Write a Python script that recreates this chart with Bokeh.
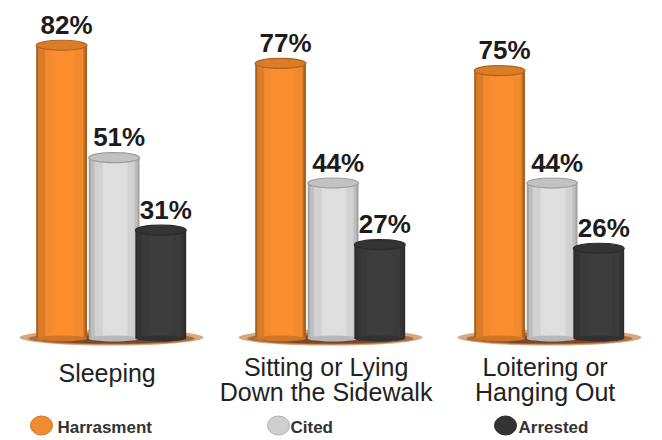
from bokeh.plotting import figure
from bokeh.models import Range1d
from bokeh.core.properties import value
from bokeh.embed import file_html
from bokeh.resources import INLINE

# ---- data ----
categories = ["Sleeping", "Sitting or Lying\nDown the Sidewalk", "Loitering or\nHanging Out"]
series_names = ["Harrasment", "Cited", "Arrested"]
harassment = [82, 77, 75]
cited = [51, 44, 44]
arrested = [31, 27, 26]

# ---- layout constants ----
W, H = 662, 440
PX_X = 219.0      # pixels per group unit
PX_Y = 3.625      # pixels per percent
X0 = 111          # pixel x of first group centre
Y0 = 342          # pixel y (from top) of baseline
FONT = "Liberation Sans"
SHIFT = 0.32      # baseline correction (fraction of font size)

p = figure(width=W, height=H, output_backend="svg", toolbar_location=None,
           x_range=Range1d(-X0 / PX_X, (W - X0) / PX_X),
           y_range=Range1d(-(H - Y0) / PX_Y, Y0 / PX_Y),
           x_axis_type=None, y_axis_type=None, min_border=0)
p.outline_line_color = None
p.background_fill_color = "white"
p.border_fill_color = "white"

def hex_to_rgb(h):
    h = h.lstrip("#")
    return tuple(int(h[i:i + 2], 16) for i in (0, 2, 4))

def shade(h, f):
    r, g, b = hex_to_rgb(h)
    c = lambda v: max(0, min(255, int(round(v * f))))
    return "#%02x%02x%02x" % (c(r), c(g), c(b))

def py(page_y):
    return (Y0 - page_y) / PX_Y

groups = list(range(len(categories)))
series_vals = [harassment, cited, arrested]
base_cols = ["#f38a2e", "#d8d8d8", "#3a3a3a"]
offsets = [-0.228, 0.012, 0.225]
bar_w = 0.232

# base shadows under each group
p.ellipse(x=groups, y=[py(337)] * 3, width=[0.84] * 3, height=16, height_units="screen",
          fill_color="#d29868", fill_alpha=0.85, line_color=None)
p.ellipse(x=groups, y=[py(338)] * 3, width=[0.76] * 3, height=12, height_units="screen",
          fill_color="#a8693c", fill_alpha=0.95, line_color=None)
p.ellipse(x=groups, y=[py(339)] * 3, width=[0.64] * 3, height=8, height_units="screen",
          fill_color="#74462a", fill_alpha=0.95, line_color=None)

# nested layers for cylinder shading: (left inset px, right inset px, brightness)
layers = {
    0: [(0, 0, 0.70), (2, 2.5, 0.90), (9, 4, 1.0), (16, 12, 1.03)],
    1: [(0, 0, 0.75), (2, 2, 0.88), (6, 5, 0.97), (14, 12, 1.03)],
    2: [(0, 0, 0.75), (2, 2, 0.88), (6, 5, 1.0), (14, 12, 1.06)],
}

for s, (vals, col, off) in enumerate(zip(series_vals, base_cols, offsets)):
    xs = [g + off for g in groups]
    for li, ri, f in layers[s]:
        l = li / PX_X
        r = ri / PX_X
        p.vbar(x=[x + (l - r) / 2 for x in xs], top=vals, bottom=py(338),
               width=bar_w - l - r, fill_color=shade(col, f), line_color=None)
    # bottom rounding
    p.ellipse(x=xs, y=[py(338)] * 3, width=bar_w, height=6, height_units="screen",
              fill_color=shade(col, 0.85), line_color=None)
    # top cap
    p.ellipse(x=xs, y=vals, width=bar_w, height=10, height_units="screen",
              fill_color=shade(col, 0.9), line_color=shade(col, 0.72), line_width=1.2)
    # value labels
    fs = 26
    p.text(x=[x + 0.023 for x in xs], y=[v + (12 + SHIFT * fs) / PX_Y for v in vals],
           text=["%d%%" % v for v in vals], text_align="center",
           text_baseline="alphabetic", text_font=value(FONT), text_font_style="bold",
           text_font_size="%dpx" % fs, text_color="#1c1c1c")

# category labels (split lines)
fs = 25
lx, ly, lt = [], [], []
for g, cat in zip(groups, categories):
    lines = cat.split("\n")
    ys = [380] if len(lines) == 1 else [374, 399]
    for t, yy in zip(lines, ys):
        lx.append(g - 0.02)
        ly.append(py(yy - SHIFT * fs))
        lt.append(t)
p.text(x=lx, y=ly, text=lt, text_align="center", text_baseline="alphabetic",
       text_font=value(FONT), text_font_size="%dpx" % fs, text_color="#222222")

# legend
fs = 17
leg_circle_x = [(41 - X0) / PX_X, (278 - X0) / PX_X, (505 - X0) / PX_X]
leg_text_x = [(57 - X0) / PX_X, (290 - X0) / PX_X, (518 - X0) / PX_X]
leg_cols = ["#f28a30", "#cfcfcf", "#333333"]
p.ellipse(x=leg_circle_x, y=[py(425)] * 3, width=22, height=19,
          width_units="screen", height_units="screen",
          fill_color=leg_cols, line_color=[shade(c, 0.85) for c in leg_cols])
p.text(x=leg_text_x, y=[py(432 - SHIFT * fs)] * 3, text=series_names,
       text_align="left", text_baseline="alphabetic", text_font=value(FONT),
       text_font_style="bold", text_font_size="%dpx" % fs, text_color="#333333")

open("out.html", "w").write(file_html(p, INLINE))
